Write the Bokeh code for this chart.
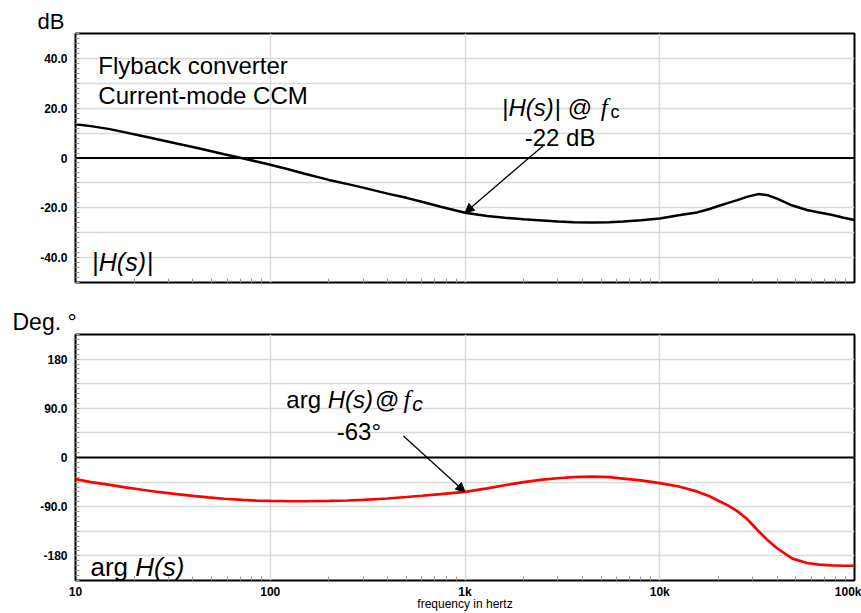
from bokeh.plotting import figure
from bokeh.models import FixedTicker, Span, Label, Arrow, NormalHead, Range1d, Title
from bokeh.layouts import column
from bokeh.embed import file_html
from bokeh.resources import INLINE

# ---- Bode data of the current-mode flyback power stage ----
freq_hz = [10, 12, 15, 18, 22, 27, 33, 40, 48, 58, 72, 85, 100, 125, 150,
           200, 250, 300, 400, 500, 600, 750, 1000, 1300, 1600, 2000, 2500,
           3000, 3600, 4500, 5500, 6500, 8000, 10000, 12500, 15500, 18000,
           20000, 22500, 25000, 28000, 32000, 36000, 40000, 48000, 57000,
           66000, 76000, 88000, 100000]

mag_db = [13.6, 12.8, 11.6, 10.3, 8.8, 7.3, 5.8, 4.4, 3.0, 1.5, -0.1, -1.4,
          -2.7, -4.6, -6.3, -8.8, -10.5, -11.9, -14.3, -16.0, -17.6, -19.6,
          -22.0, -23.3, -24.0, -24.6, -25.1, -25.5, -25.8, -25.9, -25.8,
          -25.5, -25.0, -24.3, -23.0, -21.9, -20.5, -19.3, -18.0, -16.9,
          -15.6, -14.5, -15.0, -16.3, -19.1, -20.9, -21.9, -22.8, -24.0,
          -24.9]

phase_deg = [-39.5, -45, -50, -54.5, -59, -63.5, -67, -70.3, -73, -75.5,
             -77.5, -78.8, -79.5, -80, -80, -79.5, -78.7, -77.5, -75, -72.3,
             -70, -67, -63, -56.5, -50.8, -45, -40.5, -38, -36, -35, -36,
             -38.5, -42, -47, -53, -62, -71, -79, -88, -98, -112, -134, -152,
             -166, -185, -193, -196, -197.5, -198, -198]

# crossover point called out on both panels
fc_hz = 1000
mag_at_fc_db = -22
phase_at_fc_deg = -63

x_ticks = [10, 100, 1000, 10000, 100000]
x_tick_labels = ["10", "100", "1k", "10k", "100k"]
mag_ticks = [-40, -20, 0, 20, 40]
mag_tick_labels = ["-40.0", "-20.0", "0", "20.0", "40.0"]
phase_ticks = [-180, -90, 0, 90, 180]
phase_tick_labels = ["-180", "-90.0", "0", "90.0", "180"]

SANS = "Liberation Sans"
SERIF = "Liberation Serif"

# Arial-metric advance widths (per 1000 em) used to chain text runs
ADV = {'|': 260, 'H': 722, '(': 333, ')': 333, 's': 500, ' ': 278, '@': 1015,
       'a': 556, 'r': 333, 'g': 556, 'c': 500, 'f': 278}


def run_width(text, size):
    return sum(ADV.get(ch, 556) for ch in text) * size / 1000.0


def add_text(p, x, y, text, size, align="left"):
    p.add_layout(Label(x=x, y=y, text=text, text_font=SANS,
                       text_font_size=f"{size}px", text_color="black",
                       text_align=align, text_baseline="alphabetic"))


def add_run(p, x, y, pieces):
    """Chain several styled text pieces on one baseline."""
    dx = 0.0
    for text, size, style, font, dy, gap in pieces:
        p.add_layout(Label(x=x, y=y, x_offset=dx, y_offset=dy, text=text,
                           text_font=font, text_font_size=f"{size}px",
                           text_font_style=style, text_color="black",
                           text_baseline="alphabetic", text_align="left"))
        dx += run_width(text, size) + gap


def make_panel(height, top, bottom, y_lo, y_hi, ticks, labels, minor, grid,
               unit_text, unit_offset, unit_size, show_x_labels):
    p = figure(width=861, height=height, x_axis_type="log",
               x_range=Range1d(10, 100000), y_range=Range1d(y_lo, y_hi),
               output_backend="svg", toolbar_location=None,
               min_border_left=75, min_border_right=7,
               min_border_top=top, min_border_bottom=bottom)
    p.background_fill_color = "white"
    p.border_fill_color = "white"
    p.outline_line_color = "black"
    p.outline_line_width = 2
    p.outline_line_alpha = 1.0

    # unit caption sitting above the frame's top-left corner
    p.add_layout(Title(text=unit_text, align="left", offset=unit_offset,
                       standoff=0, text_font=SANS,
                       text_font_size=f"{unit_size}px",
                       text_font_style="normal", text_color="black"),
                 "above")

    x_minor = [m * 10 ** e for e in range(1, 5) for m in range(2, 10)]
    p.xaxis.ticker = FixedTicker(ticks=x_ticks if show_x_labels else [],
                                 minor_ticks=x_minor)
    p.xaxis.major_label_overrides = dict(zip(x_ticks, x_tick_labels))
    p.yaxis.ticker = FixedTicker(ticks=ticks, minor_ticks=minor)
    p.yaxis.major_label_overrides = dict(zip(ticks, labels))

    for ax in (p.xaxis, p.yaxis):
        ax.axis_line_color = None
        ax.major_tick_in = 0
        ax.major_tick_out = 0
        ax.minor_tick_in = 4
        ax.minor_tick_out = 0
        ax.minor_tick_line_color = "#9a9a9a"
        ax.minor_tick_line_width = 1
        ax.major_label_text_font = SANS
        ax.major_label_text_font_size = "12px"
        ax.major_label_text_font_style = "bold"
        ax.major_label_text_color = "black"
    p.yaxis.major_label_standoff = 8
    p.xaxis.major_label_standoff = 4

    p.xgrid.ticker = FixedTicker(ticks=[100, 1000, 10000])
    p.ygrid.ticker = FixedTicker(ticks=grid)
    for g in (p.xgrid, p.ygrid):
        g.grid_line_color = "#d9d9d9"
        g.grid_line_width = 1.5

    p.add_layout(Span(location=0, dimension="width", line_color="black",
                      line_width=2))
    return p


# ---------------- magnitude panel ----------------
p1 = make_panel(300, 33, 18, -50, 50, mag_ticks, mag_tick_labels,
                list(range(-50, 51, 2)), list(range(-40, 41, 10)),
                "dB", -38, 22, False)
p1.line(freq_hz, mag_db, line_color="black", line_width=2.5)

add_text(p1, 13.1, 37.1, "Flyback converter", 24)
add_text(p1, 13.1, 25.1, "Current-mode CCM", 24)
add_run(p1, 12.2, -41.8, [
    ("|", 25, "normal", SANS, 0, 0),
    ("H(s)", 25, "italic", SANS, 0, 1),
    ("|", 25, "normal", SANS, 0, 0),
])
add_run(p1, 1552, 20.2, [
    ("|", 24, "normal", SANS, 0, 0),
    ("H(s)", 24, "italic", SANS, 0, 1),
    ("| @ ", 24, "normal", SANS, 0, 2),
    ("f", 25, "italic", SERIF, 0, 3),
    ("c", 18, "normal", SANS, -4, 0),
])
add_text(p1, 3076, 8.4, f"{mag_at_fc_db} dB", 24, align="center")
p1.add_layout(Arrow(end=NormalHead(size=9, fill_color="black",
                                   line_color="black"),
                    x_start=2529, y_start=5.0, x_end=fc_hz, y_end=mag_at_fc_db,
                    line_color="black", line_width=1.3))

# ---------------- phase panel ----------------
p2 = make_panel(313, 34, 32, -225, 225, phase_ticks, phase_tick_labels,
                list(range(-225, 226, 9)), list(range(-180, 181, 45)),
                "Deg. °", -63, 23, True)
p2.xaxis.axis_label = "frequency in hertz"
p2.xaxis.axis_label_text_font = SANS
p2.xaxis.axis_label_text_font_size = "12px"
p2.xaxis.axis_label_text_font_style = "normal"
p2.xaxis.axis_label_text_color = "black"
p2.xaxis.axis_label_standoff = -5
p2.line(freq_hz, phase_deg, line_color="#ff0000", line_width=2.7)

add_run(p2, 11.94, -200, [
    ("arg ", 26, "normal", SANS, 0, 0),
    ("H(s)", 26, "italic", SANS, 0, 0),
])
add_run(p2, 121, 106, [
    ("arg ", 24, "normal", SANS, 0, 0),
    ("H(s)", 24, "italic", SANS, 0, 2),
    ("@", 24, "normal", SANS, 0, 4),
    ("f", 25, "italic", SERIF, 0, 2),
    ("c", 21, "italic", SANS, -4, 0),
])
add_text(p2, 285, 47, f"{phase_at_fc_deg}°", 24, align="center")
p2.add_layout(Arrow(end=NormalHead(size=9, fill_color="black",
                                   line_color="black"),
                    x_start=483, y_start=39.2, x_end=fc_hz,
                    y_end=phase_at_fc_deg,
                    line_color="black", line_width=1.3))

layout = column(p1, p2, spacing=0)
open("out.html", "w").write(file_html(layout, INLINE))
